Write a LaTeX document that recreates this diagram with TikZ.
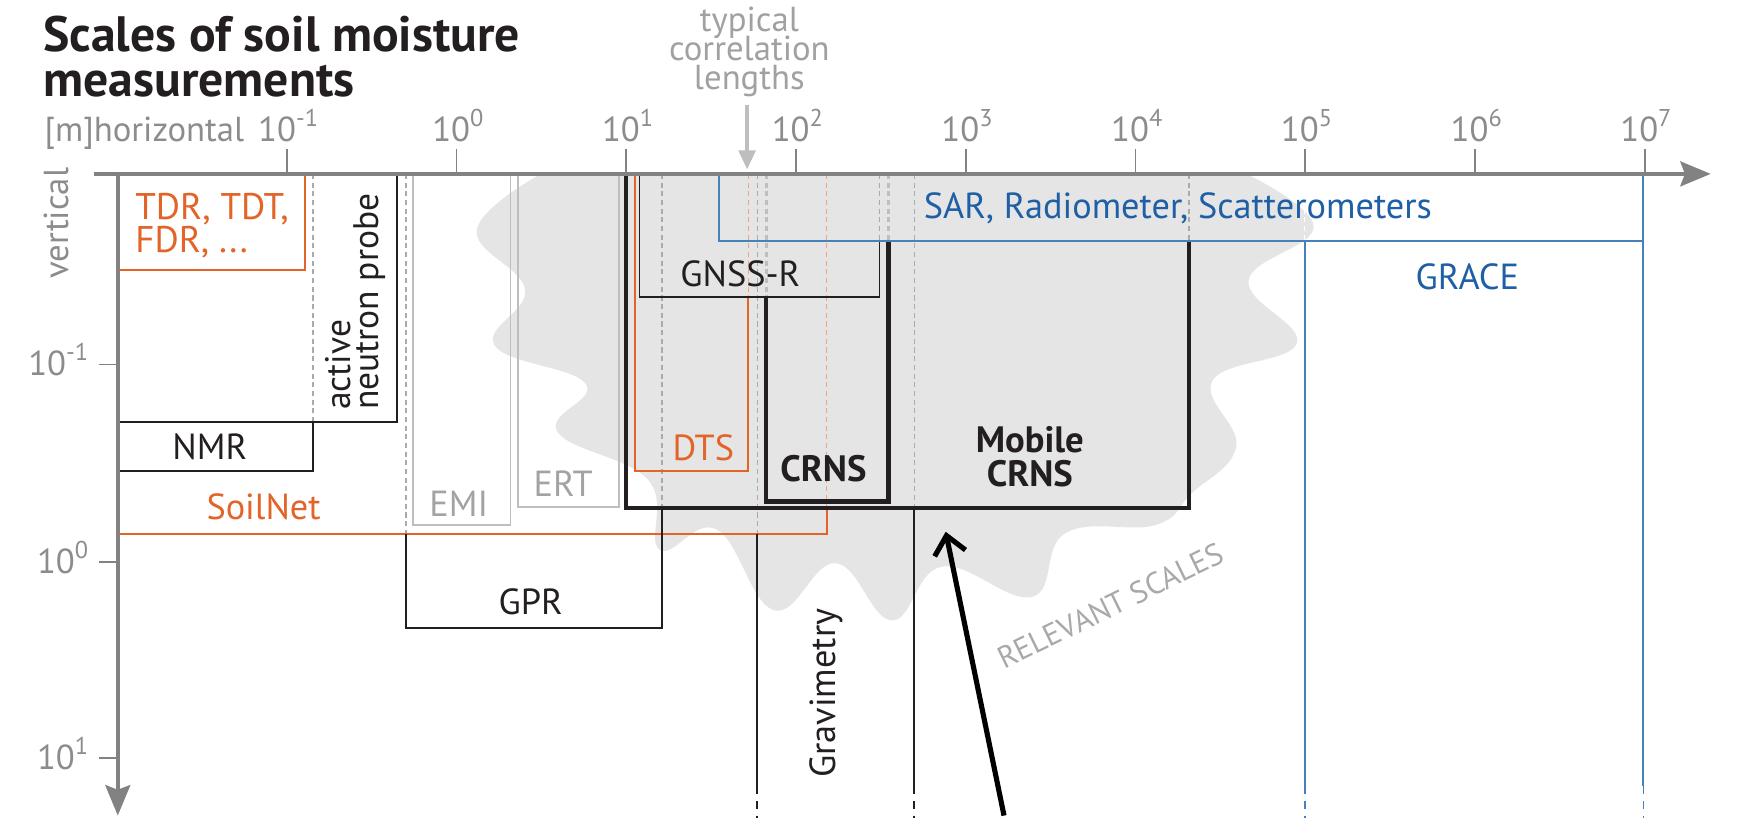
\documentclass[tikz,border=0pt]{standalone}
\usepackage{fontspec}
\setmainfont{PT Sans}
\usepackage{tikz}
\usetikzlibrary{arrows.meta,calc}
\setlength{\lineskiplimit}{-10pt}
\definecolor{axisgray}{RGB}{130,130,130}
\definecolor{labelgray}{RGB}{140,140,140}
\definecolor{boxgray}{RGB}{190,190,190}
\definecolor{blobgray}{RGB}{229,229,229}
\definecolor{dashgray}{RGB}{170,170,170}
\definecolor{darkink}{RGB}{35,31,32}
\definecolor{soilorange}{RGB}{226,100,40}
\definecolor{paleorange}{RGB}{240,165,125}
\definecolor{satblue}{RGB}{30,95,165}
\definecolor{satline}{RGB}{70,130,185}

\begin{document}
\begin{tikzpicture}[x=0.01cm,y=-0.01cm,
  lab/.style={inner sep=0pt,font=\fontsize{9.2}{9.2}\selectfont,text=darkink},
  boldlab/.style={lab,font=\fontsize{9.3}{8.8}\selectfont\bfseries},
  ticklab/.style={inner sep=0pt,font=\fontsize{8.8}{7.4}\selectfont,text=labelgray},
  tick/.style={axisgray,line width=0.45pt},
  axis/.style={axisgray,line width=1.15pt,-{Stealth[length=0.27cm,width=0.22cm,inset=0.04cm]}},
  thinbox/.style={darkink,line width=0.45pt},
  heavybox/.style={darkink,line width=1.1pt},
  orangebox/.style={soilorange,line width=0.45pt},
  graybox/.style={boxgray,line width=0.45pt},
  bluebox/.style={satline,line width=0.5pt},
  hidden/.style={dashgray,line width=0.35pt,dash pattern=on 1.3pt off 0.9pt},
  hiddenheavy/.style={boxgray,line width=0.8pt,dash pattern=on 1.3pt off 0.9pt},
  hiddenorange/.style={paleorange,line width=0.35pt,dash pattern=on 1.3pt off 0.9pt},
  tail/.style={line width=0.45pt,dash pattern=on 2pt off 1.7pt}]
\useasboundingbox (0,0) rectangle (1568,735);

\begin{scope}
\clip (0,155) rectangle (1568,735);
\fill[blobgray] plot[smooth,tension=0.7] coordinates {(482,155) (425,205) (468,258) (441,308) (522,342) (497,385) (578,428) (588,490) (639,472) (690,544) (745,502) (795,553) (840,505) (920,532) (950,475) (1030,468) (1062,440) (1102,398) (1081,339) (1156,306) (1113,250) (1171,202) (1111,155)} -- cycle;
\end{scope}

\draw[hidden] (279,155) -- (279,376);
\draw[hidden] (362,155) -- (362,476);
\draw[hidden] (590,155) -- (590,453);
\draw[hidden] (675,155) -- (675,476);
\draw[hidden] (815,155) -- (815,453);
\draw[hidden] (1060,155) -- (1060,215);
\draw[hidden] (784,155) -- (784,215);
\draw[hiddenheavy] (683,155) -- (683,265);
\draw[hiddenheavy] (792,155) -- (792,215);
\draw[hiddenorange] (667,155) -- (667,265);
\draw[hiddenorange] (737,155) -- (737,453);
\draw[white,line width=0.35pt,dash pattern=on 1.3pt off 0.9pt] (1163,155) -- (1163,215);

\draw[orangebox] (106,241) -- (272,241) -- (272,155);
\draw[thinbox] (106,376) -- (354,376) -- (354,155);
\draw[thinbox] (106,420) -- (279,420) -- (279,376);
\draw[graybox] (368,155) -- (368,468) -- (455,468) -- (455,155);
\draw[graybox] (462,155) -- (462,452) -- (552,452) -- (552,155);
\draw[orangebox] (106,476) -- (737,476) -- (737,453);
\draw[thinbox] (362,476) -- (362,560) -- (590,560) -- (590,453);
\draw[orangebox] (566,155) -- (566,420) -- (667,420) -- (667,265);
\draw[thinbox] (570,155) -- (570,265) -- (784,265) -- (784,215);
\draw[heavybox] (558,155) -- (558,453) -- (1060,453) -- (1060,215);
\draw[heavybox] (683,265) -- (683,447) -- (792,447) -- (792,215);
\draw[bluebox] (641,155) -- (641,215) -- (1465,215);
\draw[bluebox] (1163,215) -- (1163,701);
\draw[bluebox] (1465,155) -- (1465,701);
\draw[bluebox,tail] (1163,701) -- (1163,729);
\draw[bluebox,tail] (1465,701) -- (1465,729);
\draw[thinbox] (675,476) -- (675,701);
\draw[thinbox] (815,453) -- (815,701);
\draw[thinbox,tail] (675,701) -- (675,729);
\draw[thinbox,tail] (815,701) -- (815,729);

\foreach \e in {-1,0,...,7}{
  \draw[tick] ({407+151.3*\e},133) -- ({407+151.3*\e},155);
  \node[ticklab,anchor=base] (htick\e) at ({409+151.3*\e},126) {10\textsuperscript{\e}};
}
\foreach \e/\y in {-1/325,0/501,1/676}{
  \draw[tick] (88,\y) -- (105,\y);
  \node[ticklab,anchor=base east] (vtick\e) at (81,\y+10) {10\textsuperscript{\e}};
}
\draw[axis] (84,155) -- (1525,155);
\draw[axis] (105,153) -- (105,727);

\node[inner sep=0pt,anchor=base west,align=left,text=darkink,font=\fontsize{12.6}{11.4}\selectfont\bfseries] (title) at (38,86) {Scales of soil moisture\\measurements};
\node[ticklab,anchor=base west] (unit) at (39,126) {[m]horizontal};
\node[ticklab,rotate=90] (vert) at (50,199) {vertical};
\node[ticklab,anchor=base,align=center,text=boxgray!85!black] (corr) at (668,80) {typical\\correlation\\lengths};
\coordinate (corrtip) at (666,151);
\draw[boxgray,line width=0.85pt,-{Triangle[length=0.17cm,width=0.15cm]}] (corr.south -| corrtip) ++(0,6) -- (corrtip);

\node[lab,anchor=base west,align=left,text=soilorange,font=\fontsize{9.4}{8.4}\selectfont] (tdr) at (120,225) {TDR, TDT,\\FDR, ...};
\node[lab,rotate=90,anchor=south west,align=left,font=\fontsize{9}{7}\selectfont] (probe) at (344,366) {active\\neutron probe};
\node[lab] (nmr) at (187,398) {NMR};
\node[lab,text=soilorange] (soilnet) at (235,452) {SoilNet};
\node[lab,text=labelgray!80] (emi) at (409,449) {EMI};
\node[lab,text=labelgray!80] (ert) at (502,431) {ERT};
\node[lab] (gpr) at (473,536) {GPR};
\node[lab,text=soilorange] (dts) at (627,399) {DTS};
\node[lab] (gnss) at (660,244) {GNSS-R};
\node[boldlab] (crns) at (734,418) {CRNS};
\node[boldlab,align=center] (mobile) at (918,407) {Mobile\\CRNS};
\node[lab,text=satblue] (sar) at (1050,186) {SAR, Radiometer, Scatterometers};
\node[lab,text=satblue] (grace) at (1308,247) {GRACE};
\node[lab,rotate=90] (grav) at (737,618) {Gravimetry};
\node[lab,rotate=26,text=labelgray!75,font=\fontsize{7.8}{7.8}\selectfont] (relevant) at (990,540) {RELEVANT SCALES};

\coordinate (arrowtail) at (895,727);
\coordinate (arrowtip) at (843,474);
\draw[black,line width=1.3pt,-{Straight Barb[length=0.16cm,width=0.28cm]}] (arrowtail) -- (arrowtip);
\end{tikzpicture}
\end{document}
